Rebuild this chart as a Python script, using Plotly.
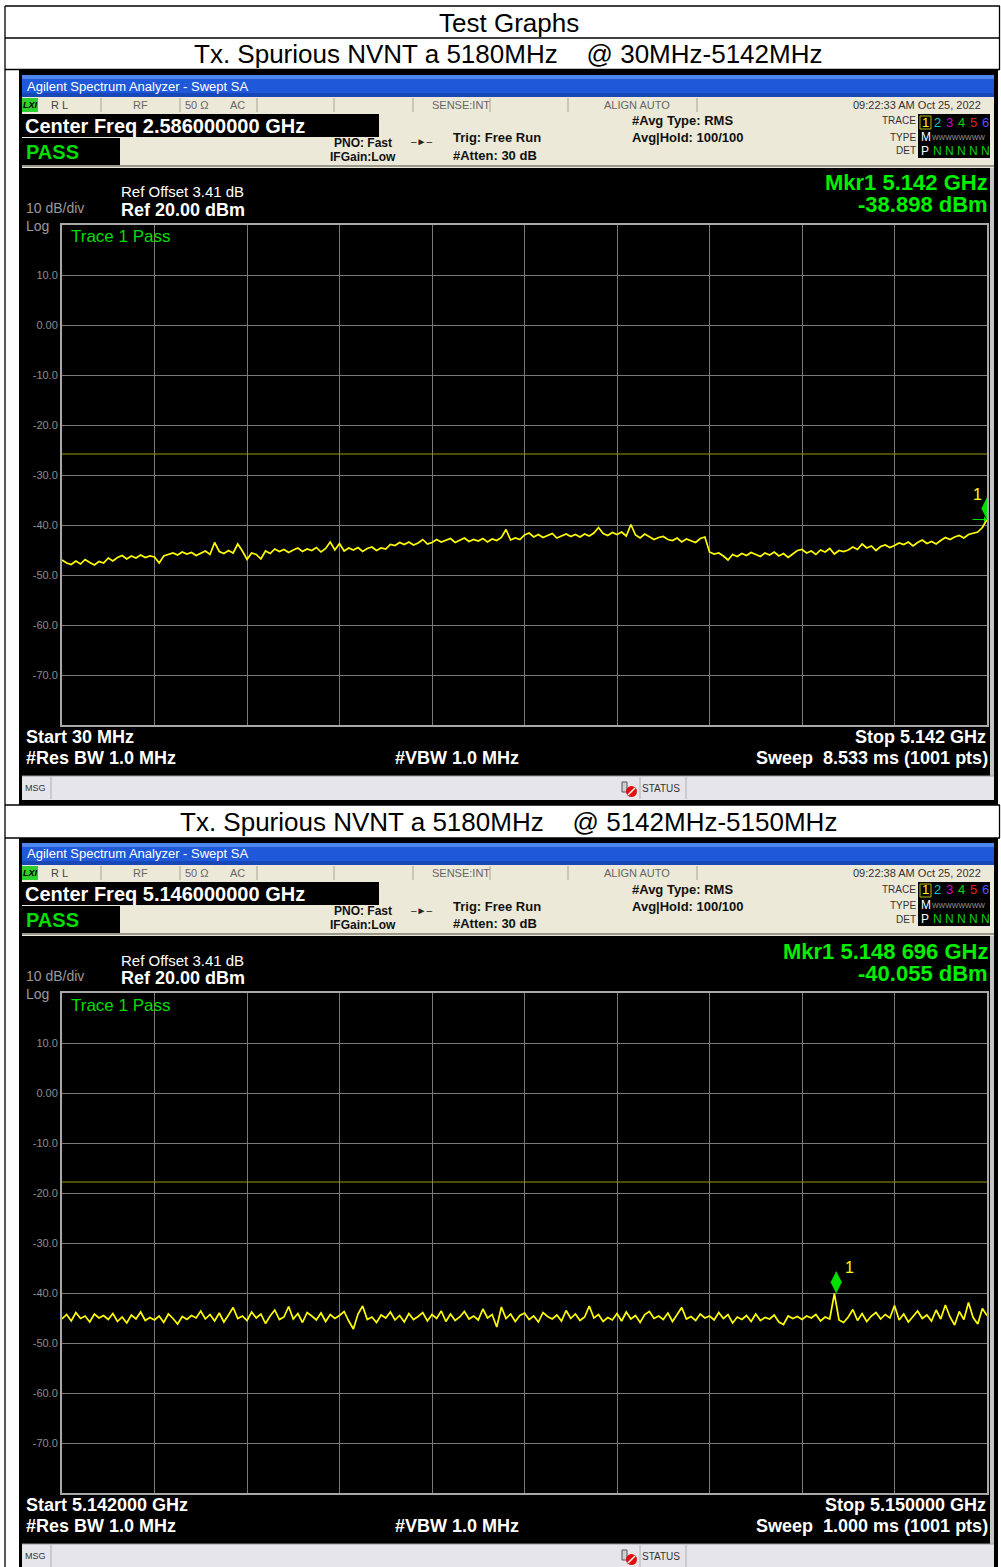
import numpy as np
import plotly.graph_objects as go

W, H = 1001, 1567
FONT = "Liberation Sans, Arial, sans-serif"

# ---------------- data ----------------
START1, STOP1 = 30.0, 5142.0        # MHz
START2, STOP2 = 5142.0, 5150.0      # MHz
REF_LEVEL, BOTTOM_LEVEL = 20.0, -80.0
Y_TICKS = [10, 0, -10, -20, -30, -40, -50, -60, -70]
Y_TICKTEXT = ["10.0", "0.00", "-10.0", "-20.0", "-30.0", "-40.0", "-50.0", "-60.0", "-70.0"]

trace1_dbm = [
    -47.0, -47.6, -47.9, -47.2, -47.8, -46.9, -47.5, -48.0, -47.3, -47.6,
    -46.6, -47.2, -46.5, -46.1, -46.8, -46.2, -46.6, -46.0, -46.5, -46.2,
    -46.4, -47.6, -46.2, -45.9, -45.6, -46.0, -45.4, -45.8, -45.5, -46.1,
    -45.6, -45.2, -45.9, -43.5, -45.3, -45.7, -45.1, -45.6, -43.8, -45.2,
    -46.9, -45.6, -45.9, -46.8, -45.2, -45.7, -44.8, -45.3, -44.9, -45.5,
    -45.0, -44.6, -45.3, -44.8, -45.1, -44.5, -45.4, -44.7, -43.4, -45.0,
    -43.7, -45.2, -44.6, -45.0, -44.5, -45.3, -44.7, -44.4, -45.1, -44.6,
    -44.8, -43.9, -44.1, -43.5, -43.9, -43.4, -44.0, -43.6, -42.9, -43.8,
    -43.5, -42.9, -43.4, -43.1, -42.7, -43.5, -43.0, -42.6, -43.3, -42.9,
    -43.2, -42.7, -43.4, -42.8, -43.1, -42.5, -40.9, -43.0, -42.6, -42.9,
    -42.0, -41.6, -42.4, -41.9, -42.5, -42.1, -41.7, -42.6, -42.2, -41.8,
    -42.3, -41.9, -42.4, -41.8, -42.2, -41.6, -40.5, -41.7, -42.1, -41.5,
    -41.9, -41.4, -42.2, -39.9, -42.0, -42.6, -41.8, -42.4, -42.9, -42.5,
    -42.3, -42.9, -43.1, -42.6, -43.4, -42.8, -43.2, -43.5, -42.7, -42.4,
    -45.4, -45.8, -45.6, -46.2, -47.0, -45.9, -46.3, -45.7, -46.1, -45.5,
    -45.9, -46.3, -45.6, -46.0, -45.4, -46.2, -45.7, -46.5, -45.8, -45.1,
    -44.9, -45.6, -45.2, -45.9, -45.0, -45.4, -44.7, -45.8, -45.1, -45.3,
    -45.0, -44.4, -44.9, -43.8, -44.6, -44.2, -45.1, -44.3, -44.0, -44.5,
    -44.1, -43.6, -43.9, -43.4, -44.2, -43.5, -43.0, -43.7, -43.3, -43.8,
    -43.1, -42.5, -42.9, -42.4, -42.1, -42.6, -41.9, -41.6, -41.4, -40.5,
    -38.9,
]

trace2_dbm = [
    -45.2, -44.3, -45.6, -43.9, -45.1, -44.6, -45.8, -44.2, -45.0, -44.5,
    -45.3, -44.1, -45.7, -44.8, -46.0, -44.4, -45.2, -43.8, -45.5, -44.9,
    -45.4, -44.6, -45.9, -44.2, -45.1, -46.2, -44.7, -45.3, -44.5, -45.0,
    -43.6, -45.2, -44.3, -45.6, -44.0, -45.8, -44.4, -42.9, -45.1, -44.6,
    -45.5, -43.8, -45.0, -44.2, -46.1, -44.6, -43.4, -45.3, -44.8, -42.7,
    -45.2, -44.1, -45.9, -43.9, -44.6, -45.4, -44.0, -45.7, -44.3, -45.1,
    -44.5, -43.7, -45.6, -47.2, -44.2, -42.6, -45.3, -44.8, -45.9, -44.4,
    -45.0, -43.8, -45.4, -44.5, -45.8, -44.1, -45.3, -44.7, -43.9, -45.6,
    -44.3, -45.1, -43.6, -45.7, -44.2, -45.5, -44.8, -43.7, -45.2, -44.6,
    -45.4, -43.2, -45.0, -44.3, -46.8, -42.8, -45.1, -44.2, -45.7, -44.5,
    -44.0, -45.3, -44.6, -45.8, -43.9, -44.7, -45.2, -44.4, -45.6, -43.5,
    -45.1, -44.2, -45.5, -44.8, -42.6, -45.0, -44.3, -45.7, -44.9, -45.4,
    -44.1, -45.6, -43.8, -45.2, -44.5, -45.9, -44.3, -43.7, -45.1, -44.6,
    -45.3, -44.0, -45.7, -44.4, -42.9, -45.2, -44.7, -45.5, -44.2, -45.0,
    -44.6, -45.4, -43.9, -45.1, -44.3, -46.0, -44.8, -45.3, -44.5, -45.7,
    -44.2, -45.5, -44.9, -45.2, -44.4, -45.8, -46.3, -44.6, -45.1, -44.7,
    -45.3, -44.6, -45.0, -44.3, -45.6, -44.8, -45.2, -40.1, -45.4, -45.9,
    -44.8, -43.3, -45.5, -44.1, -45.7, -44.6, -43.9, -45.2, -44.3, -45.0,
    -42.5, -45.4, -44.2, -45.8, -44.7, -43.6, -45.1, -44.4, -45.6, -43.4,
    -45.2, -42.4, -44.8, -46.4, -43.7, -45.3, -41.9, -44.9, -46.2, -43.1,
    -44.5,
]

LIMIT1 = -25.8
LIMIT2 = -17.8
MKR1_F, MKR1_V = 5142.0, -38.898
MKR2_F, MKR2_V = 5148.696, -40.055

# ---------------- helpers ----------------
shapes, anns = [], []


def R(x0, y0, x1, y1, fill, lc=None, lw=0, layer="below"):
    shapes.append(dict(type="rect", xref="paper", yref="paper",
                       x0=x0 / W, x1=x1 / W, y0=1 - y1 / H, y1=1 - y0 / H,
                       fillcolor=fill, line=dict(width=lw, color=lc or fill), layer=layer))


def C(x0, y0, x1, y1, fill):
    shapes.append(dict(type="circle", xref="paper", yref="paper",
                       x0=x0 / W, x1=x1 / W, y0=1 - y1 / H, y1=1 - y0 / H,
                       fillcolor=fill, line=dict(width=0), layer="above"))


def L(x0, y0, x1, y1, color="#000", w=1, layer="above"):
    shapes.append(dict(type="line", xref="paper", yref="paper",
                       x0=x0 / W, x1=x1 / W, y0=1 - y0 / H, y1=1 - y1 / H,
                       line=dict(width=w, color=color), layer=layer))


def T(x, y, s, size=12, color="#000", bold=False, xa="left", family=FONT):
    anns.append(dict(x=x / W, y=1 - y / H, xref="paper", yref="paper",
                     text=("<b>%s</b>" % s if bold else s), showarrow=False,
                     xanchor=xa, yanchor="middle", borderpad=0, borderwidth=0,
                     font=dict(size=size, color=color, family=family)))


NB = "\u00a0"
BEIGE = "#ece9d8"


def chrome(dy, bottom, info):
    # frame
    R(19, 70 + dy, 998, bottom, "#000000")
    # title bar
    R(22, 75 + dy, 994, 97 + dy, "#1f58d8")
    R(22, 75 + dy, 994, 79 + dy, "#4d86ee")
    R(22, 93 + dy, 994, 97 + dy, "#1848b8")
    T(27, 86 + dy, "Agilent Spectrum Analyzer - Swept SA", 13, "#ffffff")
    # status row 1
    R(22, 97 + dy, 994, 113 + dy, BEIGE)
    for xd in [101, 180, 257, 334, 413, 490, 568, 697]:
        L(xd, 98 + dy, xd, 112 + dy, "#a8a598", 1)
    R(22, 98 + dy, 38, 112 + dy, "#2fcf2f")
    T(23, 105 + dy, "<i>LXI</i>", 9, "#000", True)
    T(51, 105 + dy, "R L", 11, "#444")
    T(140, 105 + dy, "RF", 11, "#666", xa="center")
    T(185, 105 + dy, "50 Ω", 11, "#666")
    T(230, 105 + dy, "AC", 11, "#666")
    T(432, 105 + dy, "SENSE:INT", 11, "#666")
    T(604, 105 + dy, "ALIGN AUTO", 11, "#666")
    T(981, 105 + dy, info["time"], 11, "#333", xa="right")
    # row 2
    R(22, 113 + dy, 994, 168 + dy, BEIGE)
    L(22, 166 + dy, 994, 166 + dy, "#9a978c", 2)
    R(22, 114 + dy, 379, 137 + dy, "#000000")
    T(25, 126 + dy, info["center"], 20, "#ffffff", True)
    R(22, 138 + dy, 120, 165 + dy, "#000000")
    T(26, 152 + dy, "PASS", 20, "#00dd00", True)
    T(334, 143 + dy, "PNO: Fast", 12, "#111", True)
    T(330, 157 + dy, "IFGain:Low", 12, "#111", True)
    T(421, 142 + dy, "–►–", 10, "#222", xa="center")
    T(453, 138 + dy, "Trig: Free Run", 13, "#111", True)
    T(453, 155 + dy, "#Atten: 30 dB", 13, "#111", True)
    T(632, 121 + dy, "#Avg Type: RMS", 13, "#111", True)
    T(632, 138 + dy, "Avg|Hold: 100/100", 13, "#111", True)
    T(916, 121 + dy, "TRACE", 10, "#333", xa="right")
    T(916, 137 + dy, "TYPE", 10, "#333", xa="right")
    T(916, 151 + dy, "DET", 10, "#333", xa="right")
    R(918, 114 + dy, 990, 158 + dy, "#000000")
    R(920, 116 + dy, 931, 129 + dy, "rgba(0,0,0,0)", "#b8b800", 1, layer="above")
    for i, (d, c) in enumerate(zip("123456", ["#ffff00", "#00c8c8", "#d000d0",
                                                 "#10d010", "#e02020", "#5050ff"])):
        T(925.5 + 12 * i, 122 + dy, d, 13, c, xa="center")
    T(921, 137 + dy, "M", 12, "#ffffff")
    T(932, 137 + dy, "WWWWWWWW", 7, "#9a9a9a")
    T(921, 151 + dy, "P", 12, "#ffffff")
    T(933, 151 + dy, "N" + NB + "N" + NB + "N" + NB + "N" + NB + "N", 12, "#10d010")
    # right gray strip
    R(990, 168 + dy, 994, min(776 + dy, bottom), "#c4c4c4")
    # header texts in black area
    T(121, 192 + dy, "Ref Offset 3.41 dB", 15, "#ffffff")
    T(121, 210 + dy, "Ref 20.00 dBm", 18, "#ffffff", True)
    T(26, 208 + dy, "10 dB/div", 14, "#9a9a9a")
    T(26, 226 + dy, "Log", 14, "#9a9a9a")
    T(988, 183 + dy, info["mkf"], 22, "#00ee00", True, xa="right")
    T(988, 205 + dy, info["mkv"], 22, "#00ee00", True, xa="right")
    T(71, 237 + dy, "Trace 1 Pass", 17, "#00dd00")
    # bottom texts
    T(26, 737 + dy, info["start"], 18, "#ffffff", True)
    T(26, 758 + dy, "#Res BW 1.0 MHz", 18, "#ffffff", True)
    T(395, 758 + dy, "#VBW 1.0 MHz", 18, "#ffffff", True)
    T(986, 737 + dy, info["stop"], 18, "#ffffff", True, xa="right")
    T(988, 758 + dy, info["sweep"], 18, "#ffffff", True, xa="right")
    # msg bar
    R(22, 776 + dy, 994, min(800 + dy, bottom), "#e6e6ea")
    L(22, 776 + dy, 994, 776 + dy, "#9a9a9a", 1)
    for xd in [51, 640, 686]:
        L(xd, 777 + dy, xd, min(799 + dy, bottom), "#b0b0b0", 1)
    T(25, 788 + dy, "MSG", 9, "#333")
    R(622, 782 + dy, 627, 792 + dy, "#d0d0d0", "#555", 1, layer="above")
    C(626, 786 + dy, 637, 797 + dy, "#e01010")
    L(628, 795 + dy, 635, 788 + dy, "#ffffff", 1.5)
    T(642, 788 + dy, "STATUS", 10, "#333")


# ---------------- table frame ----------------
R(0, 0, W, H, "#ffffff")
chrome(0, 805, dict(center="Center Freq 2.586000000 GHz",
                    time="09:22:33 AM Oct 25, 2022",
                    mkf="Mkr1 5.142 GHz", mkv="-38.898 dBm",
                    start="Start 30 MHz", stop="Stop 5.142 GHz",
                    sweep="Sweep" + NB + NB + "8.533 ms (1001 pts)"))
chrome(768, H + 2, dict(center="Center Freq 5.146000000 GHz",
                        time="09:22:38 AM Oct 25, 2022",
                        mkf="Mkr1 5.148 696 GHz", mkv="-40.055 dBm",
                        start="Start 5.142000 GHz", stop="Stop 5.150000 GHz",
                        sweep="Sweep" + NB + NB + "1.000 ms (1001 pts)"))

for yy in [6, 38, 69.5, 805, 838]:
    L(5, yy, 1000, yy, "#000", 1.3)
L(5, 6, 5, H, "#000", 1.3)
L(999.5, 6, 999.5, 70, "#000", 1.3)
L(999.5, 805, 999.5, 838, "#000", 1.3)
T(509, 23, "Test Graphs", 26, "#000", xa="center")
T(508, 54, "Tx. Spurious NVNT a 5180MHz" + NB * 4 + "@ 30MHz-5142MHz", 26, "#000", xa="center")
T(508, 822, "Tx. Spurious NVNT a 5180MHz" + NB * 4 + "@ 5142MHz-5150MHz", 26, "#000", xa="center")

# ---------------- traces ----------------
freq1 = np.linspace(START1, STOP1, len(trace1_dbm))
freq2 = np.linspace(START2, STOP2, len(trace2_dbm))

fig = go.Figure()
for xa_, ya_, f, v, (s0, s1), lim, (mf, mv) in [
        ("x", "y", freq1, trace1_dbm, (START1, STOP1), LIMIT1, (MKR1_F, MKR1_V)),
        ("x2", "y2", freq2, trace2_dbm, (START2, STOP2), LIMIT2, (MKR2_F, MKR2_V))]:
    fig.add_trace(go.Scatter(x=[s0, s1], y=[lim, lim], mode="lines",
                             line=dict(color="#9c9c00", width=1), xaxis=xa_, yaxis=ya_,
                             hoverinfo="skip"))
    fig.add_trace(go.Scatter(x=f, y=v, mode="lines",
                             line=dict(color="#ffff00", width=1.7),
                             xaxis=xa_, yaxis=ya_, hoverinfo="skip"))
    fig.add_trace(go.Scatter(x=[mf], y=[mv], mode="markers",
                             marker=dict(symbol="diamond-tall", size=16, color="#00e000",
                                         angle=180, standoff=11, line=dict(width=0)),
                             xaxis=xa_, yaxis=ya_, hoverinfo="skip"))

# marker labels
anns.append(dict(x=MKR1_F, y=MKR1_V, xref="x", yref="y", text="1", showarrow=False,
                 xshift=-10, yshift=25, font=dict(size=16, color="#ffff00", family=FONT)))
anns.append(dict(x=MKR1_F, y=MKR1_V, xref="x", yref="y", text="", showarrow=True,
                 ax=-16, ay=0, arrowcolor="#00dd00", arrowwidth=1, arrowhead=1, arrowsize=1))
anns.append(dict(x=MKR2_F, y=MKR2_V, xref="x2", yref="y2", text="1", showarrow=False,
                 xshift=13, yshift=26, font=dict(size=16, color="#ffff00", family=FONT)))


def xaxis(rng, anchor):
    return dict(domain=[62 / W, 987 / W], range=list(rng), tick0=rng[0],
                dtick=(rng[1] - rng[0]) / 10, showgrid=True, gridcolor="#7a7a7a",
                gridwidth=1, showticklabels=False, zeroline=False, showline=True,
                linecolor="#a8a8a8", linewidth=2, mirror=True, ticks="", anchor=anchor,
                fixedrange=True)


def yaxis(top_px, anchor):
    return dict(domain=[1 - (top_px + 500) / H, 1 - top_px / H],
                range=[BOTTOM_LEVEL, REF_LEVEL], tickvals=Y_TICKS, ticktext=Y_TICKTEXT,
                showgrid=True, gridcolor="#7a7a7a", gridwidth=1, zeroline=False,
                showline=True, linecolor="#a8a8a8", linewidth=2, mirror=True, ticks="",
                tickfont=dict(size=11, color="#8c8c8c", family=FONT), anchor=anchor,
                fixedrange=True)


fig.update_layout(
    width=W, height=H, autosize=False,
    margin=dict(l=0, r=0, t=0, b=0, pad=0),
    paper_bgcolor="#ffffff", plot_bgcolor="#000000",
    showlegend=False,
    xaxis=xaxis((START1, STOP1), "y"), yaxis=yaxis(225, "x"),
    xaxis2=xaxis((START2, STOP2), "y2"), yaxis2=yaxis(993, "x2"),
    shapes=shapes, annotations=anns,
    font=dict(family=FONT),
)

fig.write_html("out.html", config={"displayModeBar": False},
               post_script="document.body.style.margin='0';document.body.style.padding='0';")
